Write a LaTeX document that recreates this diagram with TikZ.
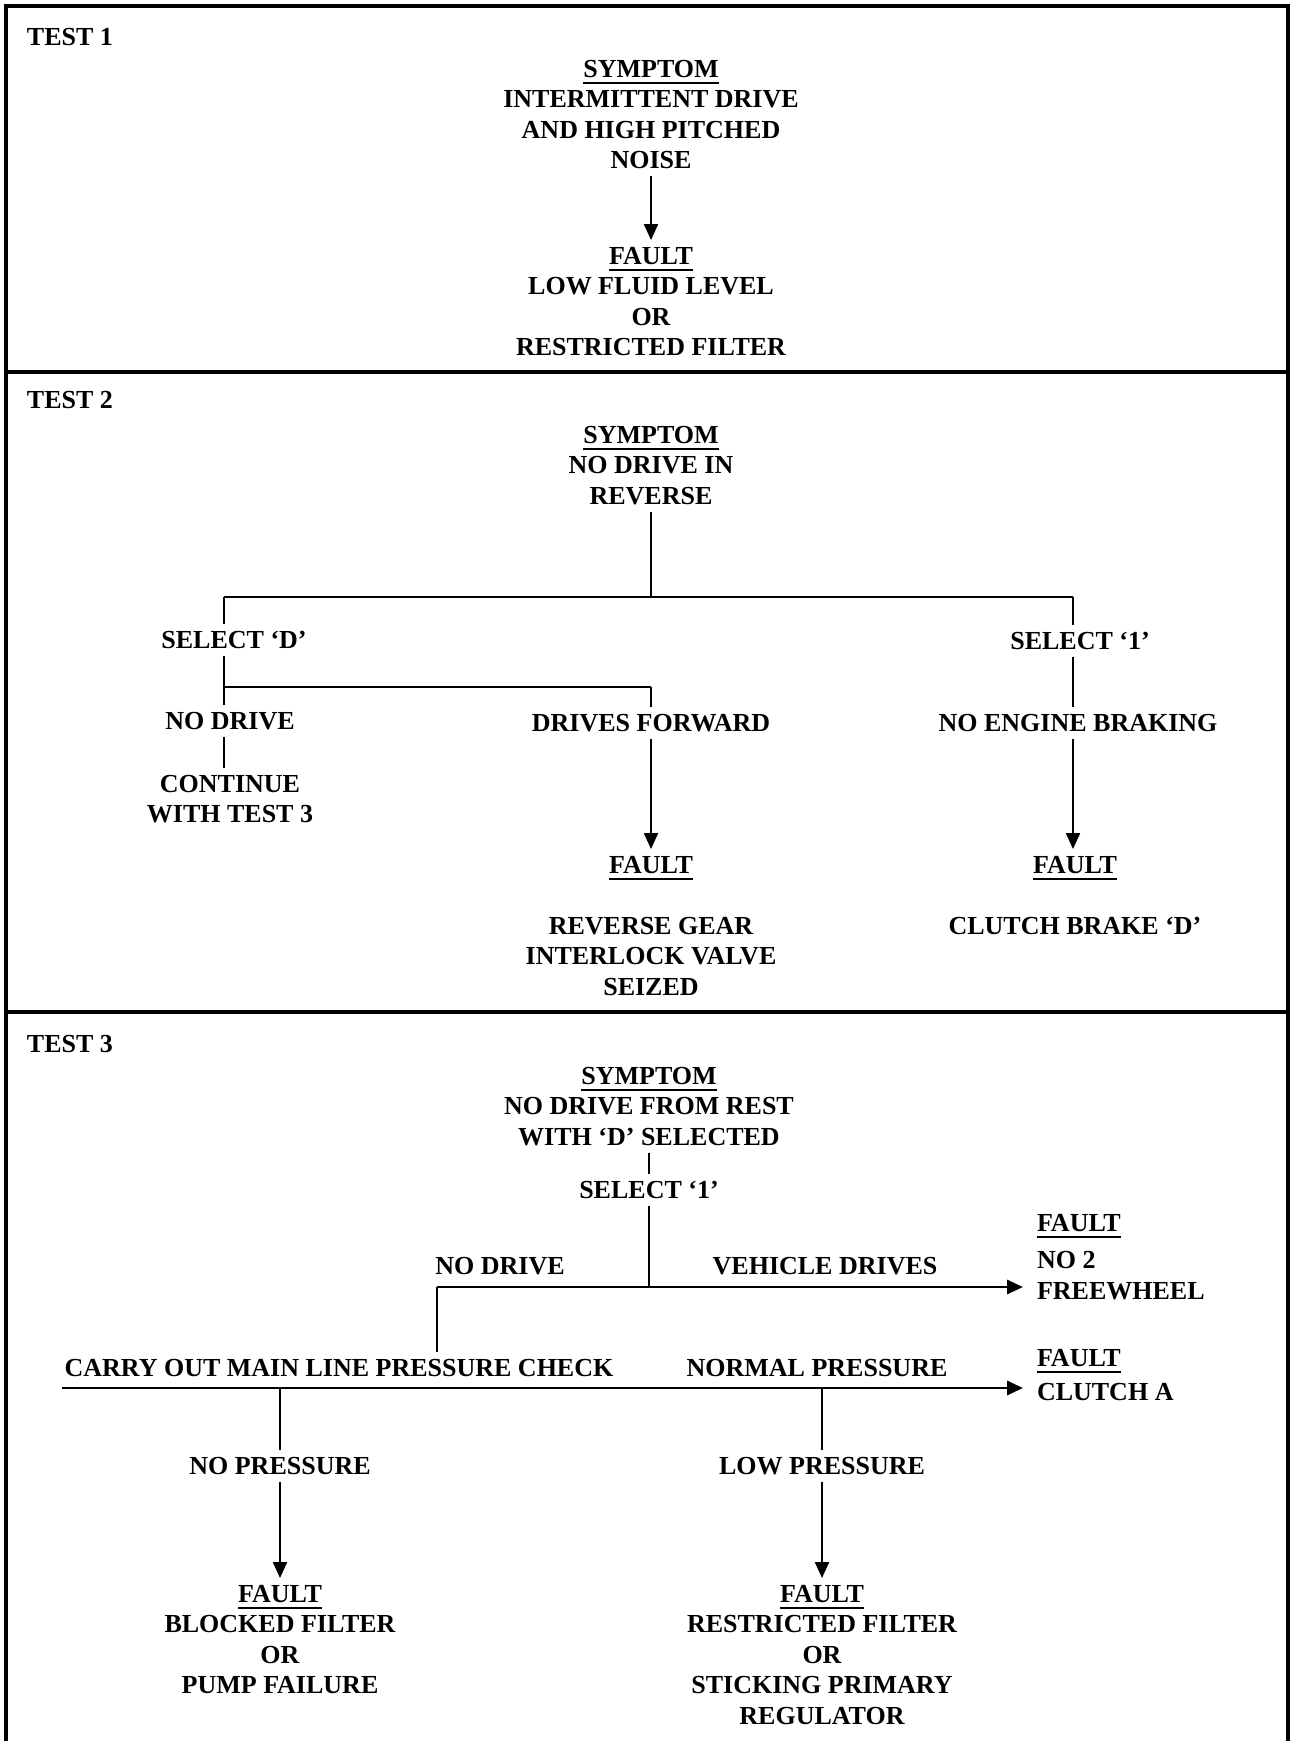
\documentclass[tikz,border=0pt]{standalone}
\usepackage{fontspec}
\setmainfont{Liberation Serif}
\usetikzlibrary{arrows.meta}

\newcommand{\ulhead}[1]{\setbox0=\hbox{#1}\rlap{\rule[-4pt]{\wd0}{1.2pt}}\box0}

\begin{document}
\begin{tikzpicture}[x=0.02cm, y=-0.02cm,
    txt/.style={inner sep=0pt, outer sep=4pt, anchor=north, align=center, yshift=4pt,
        font=\bfseries\fontsize{14.8}{17.4}\selectfont},
    lefttxt/.style={txt, anchor=north west, align=left, xshift=-4pt},
    frame/.style={line width=1.8pt},
    link/.style={line width=0.9pt},
    branch/.style={line width=1.5pt},
    tip/.style={-{Triangle[length=9pt, width=8pt]}}]
        \useasboundingbox (0,0) rectangle (1292,1741);

        % outer box and the three panels
        \draw[frame] (6,1741) |- (1288,6) -- (1288,1741);
        \draw[frame] (6,372) -- (1288,372)
            (6,1012) -- (1288,1012);

        % test 1
        \node[lefttxt] (t1) at (27,28) {TEST 1};
        \node[txt] (sym1) at (651,60) {\ulhead{SYMPTOM}\\INTERMITTENT DRIVE\\AND HIGH PITCHED\\NOISE};
        \node[txt] (flt1) at (651,247) {\ulhead{FAULT}\\LOW FLUID LEVEL\\OR\\RESTRICTED FILTER};

        \draw[link, tip] (sym1) -- (flt1);

        % test 2
        \node[lefttxt] (t2) at (27,391) {TEST 2};
        \node[txt] (sym2) at (651,426) {\ulhead{SYMPTOM}\\NO DRIVE IN\\REVERSE};
        \node[txt] (selD) at (234,631) {SELECT `D'};
        \node[txt] (selO) at (1080,632) {SELECT `1'};
        \node[txt] (nod) at (230,712) {NO DRIVE};
        \node[txt] (fwd) at (651,714) {DRIVES FORWARD};
        \node[txt] (cont) at (230,775) {CONTINUE\\WITH TEST 3};
        \node[txt] (noeb) at (1078,714) {NO ENGINE BRAKING};
        \node[txt] (flt2) at (651,856) {\ulhead{FAULT}\\[17.4pt]REVERSE GEAR\\INTERLOCK VALVE\\SEIZED};
        \node[txt] (flt3) at (1075,856) {\ulhead{FAULT}\\[17.4pt]CLUTCH BRAKE `D'};
        \coordinate (d2l) at (224,597);
        \coordinate (d2r) at (1073,597);
        \coordinate (d3l) at (224,687);
        \coordinate (d3r) at (651,687);

        \draw[branch] (d2l) -- (d2r)
            (d3l) -- (d3r);
        \draw[link] (sym2) -- (sym2 |- d2l)
            (d2l) -- (d2l |- selD.north)
            (d2r) -- (d2r |- selO.north)
            (d2l |- selD.south) -- (d3l) -- (d3l |- nod.north)
            (d3r) -- (fwd)
            (d3l |- nod.south) -- (d3l |- cont.north)
            (d2r |- selO.south) -- (d2r |- noeb.north);
        \draw[link, tip] (fwd) -- (flt2);
        \draw[link, tip] (d2r |- noeb.south) -- (d2r |- flt3.north);

        % test 3
        \node[lefttxt] (t3) at (27,1035) {TEST 3};
        \node[txt] (sym3) at (649,1067) {\ulhead{SYMPTOM}\\NO DRIVE FROM REST\\WITH `D' SELECTED};
        \node[txt] (sel3) at (649,1181) {SELECT `1'};
        \node[txt] (nod3) at (500,1257) {NO DRIVE};
        \node[txt] (vdr) at (825,1257) {VEHICLE DRIVES};
        \node[lefttxt] (flt4) at (1037,1214) {\ulhead{FAULT}\\[4pt]NO 2\\FREEWHEEL};
        \node[txt] (chk) at (339,1359) {CARRY OUT MAIN LINE PRESSURE CHECK};
        \node[txt] (norm) at (817,1359) {NORMAL PRESSURE};
        \node[lefttxt] (flt5) at (1037,1349) {\ulhead{FAULT}\\[2pt]CLUTCH A};
        \node[txt] (nop) at (280,1457) {NO PRESSURE};
        \node[txt] (lop) at (822,1457) {LOW PRESSURE};
        \node[txt] (flt6) at (280,1585) {\ulhead{FAULT}\\BLOCKED FILTER\\OR\\PUMP FAILURE};
        \node[txt] (flt7) at (822,1585) {\ulhead{FAULT}\\RESTRICTED FILTER\\OR\\STICKING PRIMARY\\REGULATOR};
        \coordinate (d4) at (437,1287);
        \coordinate (d5) at (62,1388);
        \coordinate (d5a) at (280,1388);
        \coordinate (d5b) at (822,1388);

        \draw[link] (sym3) -- (sel3)
            (sel3) -- (sel3 |- d4)
            (d4) -- (d4 |- chk.north)
            (d5a) -- (nop)
            (d5b) -- (lop);
        \draw[branch, tip, shorten >=4pt] (d4) -- (flt4.west |- d4);
        \draw[branch, tip, shorten >=4pt] (d5) -- (flt5.west |- d5);
        \draw[link, tip] (nop) -- (flt6);
        \draw[link, tip] (lop) -- (flt7);
    \end{tikzpicture}
\end{document}
